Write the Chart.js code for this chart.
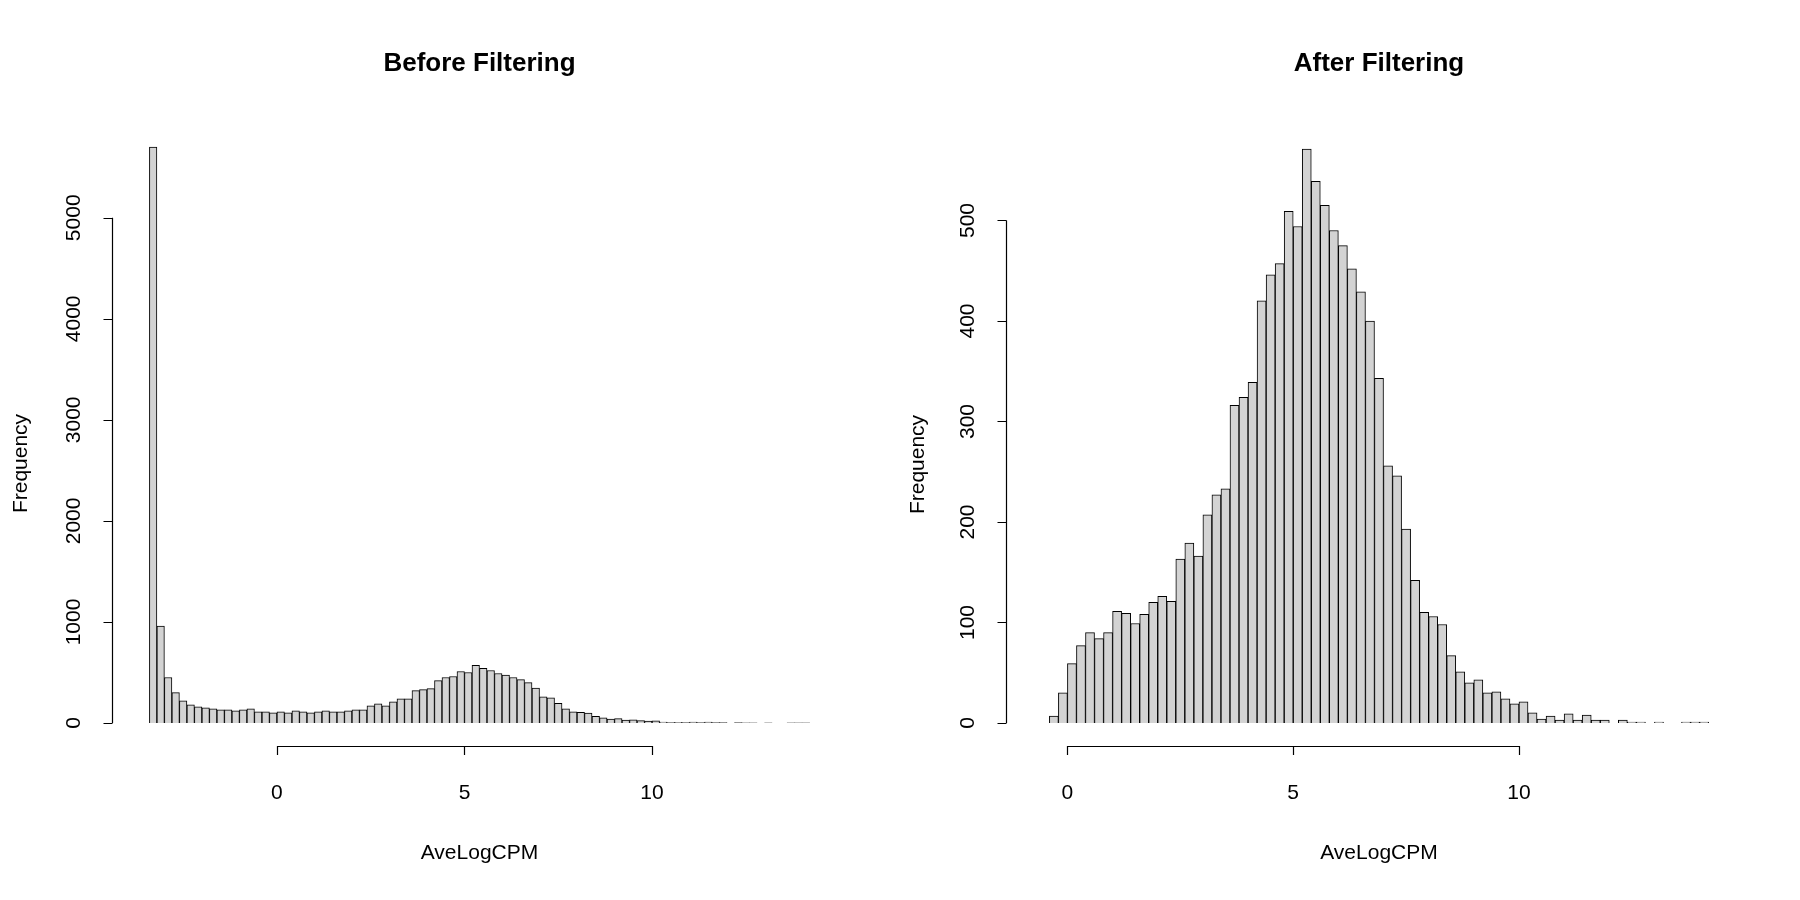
<!DOCTYPE html>
<html>
<head>
<meta charset="utf-8">
<script src="https://cdn.jsdelivr.net/npm/chart.js@4/dist/chart.umd.min.js"></script>
<style>
  body { margin: 0; background: #fff; }
  .box { position: absolute; top: 0; width: 900px; height: 900px; }
</style>
</head>
<body>
<div class="box" style="left:0"><canvas id="before" width="900" height="900"></canvas></div>
<div class="box" style="left:900px"><canvas id="after" width="900" height="900"></canvas></div>
<script>
// bin width 0.2, values are bin counts, bins start at the given value
const binWidth = 0.2;
const beforeStart = -3.4;
const beforeCounts = [5700, 960, 450, 300, 220, 180, 160, 150, 140, 130, 130, 120, 130, 140, 110, 110, 100,
  110, 100, 120, 110, 100, 110, 120, 110, 110, 120, 130, 130, 170, 190, 170, 210, 240, 240, 320, 330, 340,
  420, 450, 460, 510, 500, 570, 540, 520, 490, 475, 450, 430, 400, 345, 260, 250, 195, 140, 110, 106, 98,
  67, 51, 40, 43, 30, 31, 24, 19, 21, 10, 4, 7, 3, 9, 3, 8, 3, 3, 0, 3, 1, 1, 0, 1, 0, 0, 1, 1, 1];
const afterStart = -0.4;
const afterCounts = [7, 30, 59, 77, 90, 84, 90, 111, 109, 99, 108, 120, 126, 121, 163, 179, 166, 207, 227, 233,
  316, 324, 339, 420, 446, 457, 509, 494, 571, 539, 515, 490, 475, 452, 429, 400, 343, 256, 246, 193, 142,
  110, 106, 98, 67, 51, 40, 43, 30, 31, 24, 19, 21, 10, 4, 7, 3, 9, 3, 8, 3, 3, 0, 3, 1, 1, 0, 1, 0, 0, 1, 1, 1];
const xTicks = [0, 5, 10];
const beforeYTicks = [0, 1000, 2000, 3000, 4000, 5000];
const afterYTicks = [0, 100, 200, 300, 400, 500];

const font = '"Liberation Sans", Arial, sans-serif';

// R-style axes drawn off to the side of the plot region
const rAxes = {
  id: 'rAxes',
  afterDraw(chart, args, opts) {
    const c = chart.ctx, a = chart.chartArea;
    const xs = chart.scales.x, ys = chart.scales.y;
    c.save();
    c.strokeStyle = '#000'; c.fillStyle = '#000'; c.lineWidth = 1.2;
    // x axis
    const xl = 746;
    const x0 = xs.getPixelForValue(opts.xTicks[0]), x1 = xs.getPixelForValue(opts.xTicks[opts.xTicks.length - 1]);
    c.beginPath(); c.moveTo(x0, xl + 0.5); c.lineTo(x1, xl + 0.5);
    opts.xTicks.forEach(t => { const p = Math.round(xs.getPixelForValue(t)) + 0.5; c.moveTo(p, xl); c.lineTo(p, xl + 9); });
    c.stroke();
    c.font = '21px ' + font; c.textAlign = 'center'; c.textBaseline = 'middle';
    opts.xTicks.forEach(t => c.fillText(String(t), xs.getPixelForValue(t), 793));
    // y axis
    const yl = Math.round(a.left - opts.gap) + 0.5;
    const yT = opts.yTicks;
    c.beginPath(); c.moveTo(yl, ys.getPixelForValue(yT[0])); c.lineTo(yl, ys.getPixelForValue(yT[yT.length - 1]));
    yT.forEach(t => { const p = Math.round(ys.getPixelForValue(t)) + 0.5; c.moveTo(yl, p); c.lineTo(yl - 9, p); });
    c.stroke();
    yT.forEach(t => {
      c.save(); c.translate(yl - 38, ys.getPixelForValue(t)); c.rotate(-Math.PI / 2);
      c.fillText(String(t), 0, 0); c.restore();
    });
    // labels and title
    c.fillText('AveLogCPM', (a.left + a.right) / 2, 853);
    c.save(); c.translate(opts.ylabX, (a.top + 723) / 2 + 40); c.rotate(-Math.PI / 2);
    c.fillText('Frequency', 0, 0); c.restore();
    c.font = 'bold 26px ' + font;
    c.fillText(opts.title, (a.left + a.right) / 2, 64);
    c.restore();
  }
};

function makeHist(id, start, counts, title, xMin, xMax, yMax, yTicks, pad, gap, ylabX) {
  const pts = counts.map((v, i) => ({ x: start + binWidth * (i + 0.5), y: v }));
  new Chart(document.getElementById(id), {
    type: 'bar',
    data: { datasets: [{ data: pts, backgroundColor: '#d3d3d3', borderColor: '#000', borderWidth: 1,
      barPercentage: 1, categoryPercentage: 1 }] },
    options: {
      responsive: false, animation: false,
      layout: { padding: pad },
      plugins: { legend: { display: false }, tooltip: { enabled: false },
        rAxes: { xTicks: xTicks, yTicks: yTicks, title: title, gap: gap, ylabX: ylabX } },
      scales: {
        x: { type: 'linear', min: xMin, max: xMax, offset: false, display: false },
        y: { min: 0, max: yMax, display: false }
      }
    },
    plugins: [rAxes]
  });
}

makeHist('before', beforeStart, beforeCounts, 'Before Filtering', -4.104, 14.904, 5928, beforeYTicks,
  { left: 123, right: 64, top: 124, bottom: 177 }, 11, 21);
makeHist('after', afterStart, afterCounts, 'After Filtering', -0.984, 14.784, 594, afterYTicks,
  { left: 123, right: 65, top: 126, bottom: 177 }, 17, 18);
</script>
</body>
</html>
